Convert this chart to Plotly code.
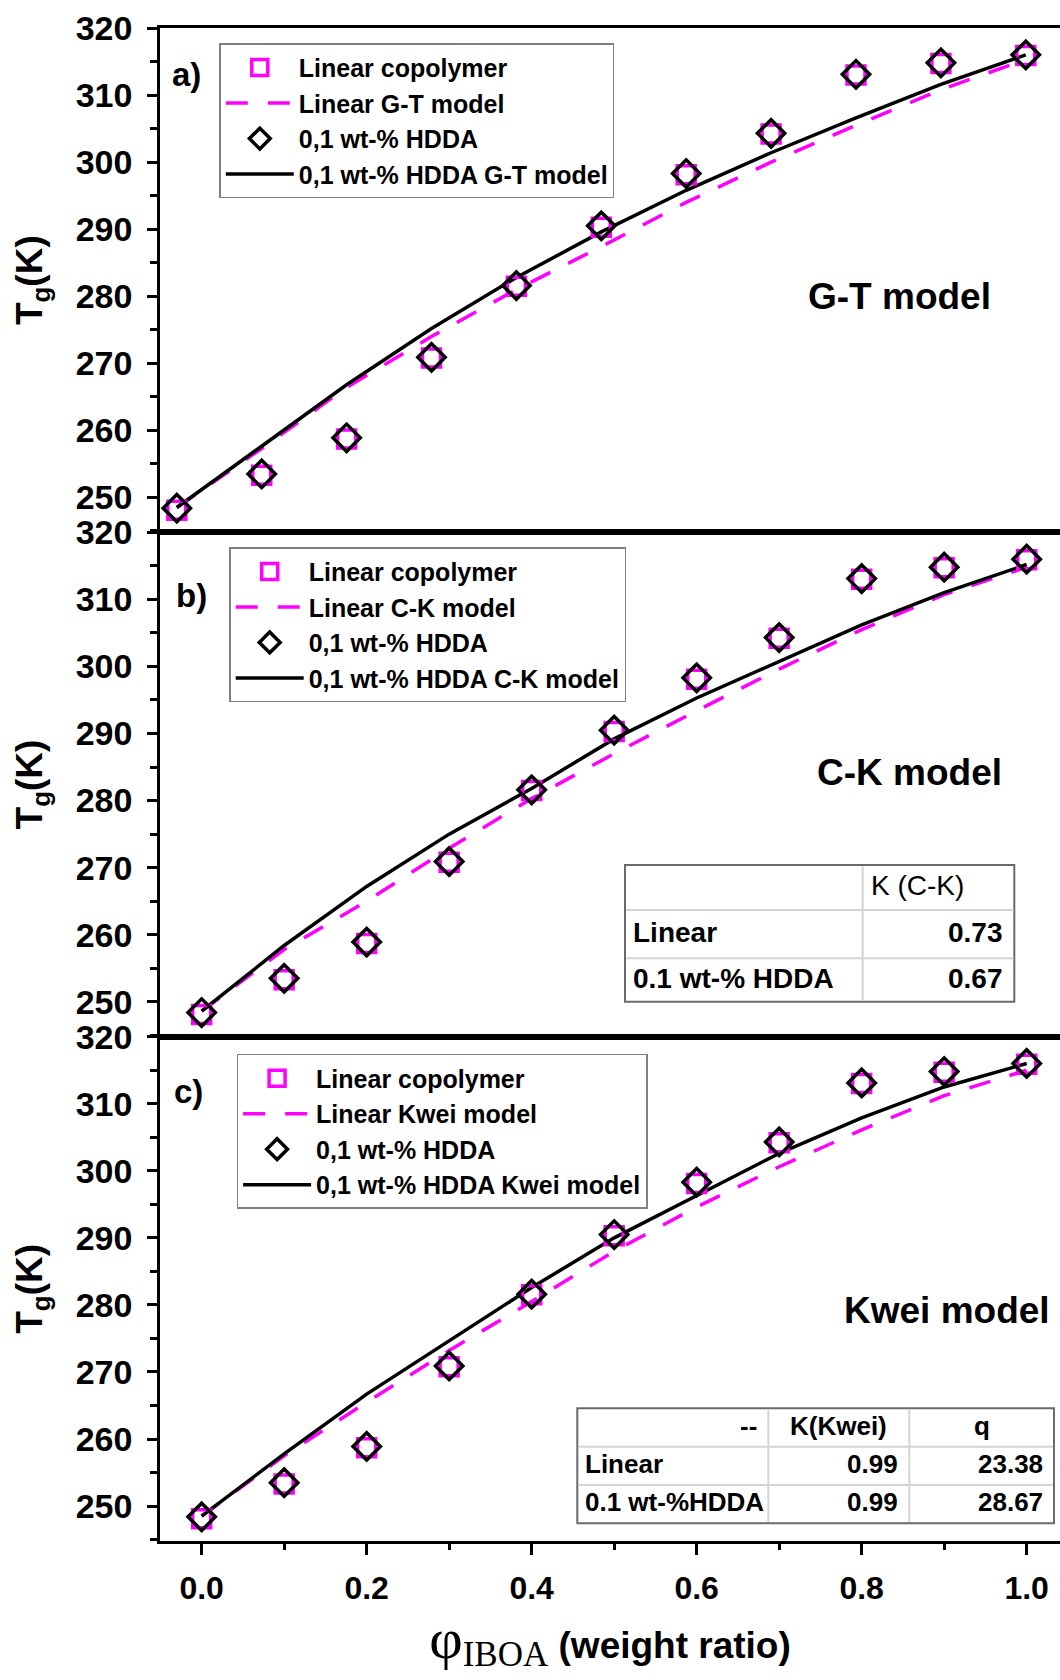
import plotly.graph_objects as go
from plotly.subplots import make_subplots

# ---------------- data ----------------
phi = [0.0, 0.1, 0.2, 0.3, 0.4, 0.5, 0.6, 0.7, 0.8, 0.9, 1.0]

tg_linear_exp = [248.1, 253.3, 258.7, 270.8, 281.5, 290.3, 298.1, 304.2, 313.0, 314.7, 315.9]
tg_hdda_exp = [248.4, 253.5, 258.9, 270.9, 281.6, 290.5, 298.3, 304.3, 313.1, 314.8, 316.0]

gt_linear = [248.5, 257.3, 266.4, 274.0, 281.0, 287.4, 294.0, 300.0, 305.5, 310.8, 315.3]
gt_hdda = [248.5, 257.6, 266.8, 275.2, 282.8, 289.6, 295.8, 301.4, 306.6, 311.6, 316.0]

ck_linear = [248.6, 257.8, 265.0, 272.9, 280.3, 287.0, 293.4, 299.6, 305.5, 310.7, 314.8]
ck_hdda = [248.6, 258.4, 267.2, 275.0, 281.8, 289.2, 295.3, 300.8, 306.2, 311.0, 315.2]

kwei_linear = [248.5, 257.5, 265.5, 273.2, 280.5, 288.0, 294.6, 300.6, 306.1, 311.2, 315.0]
kwei_hdda = [248.5, 257.8, 266.7, 274.6, 282.6, 290.0, 296.3, 302.6, 307.9, 312.5, 316.0]

panel_tags = ["a)", "b)", "c)"]
model_short = ["G-T", "C-K", "Kwei"]
model_titles = ["G-T model", "C-K model", "Kwei model"]

ck_table = [["", "K (C-K)"],
            ["Linear", "0.73"],
            ["0.1 wt-% HDDA", "0.67"]]
kwei_table = [["--", "K(Kwei)", "q"],
              ["Linear", "0.99", "23.38"],
              ["0.1 wt-%HDDA", "0.99", "28.67"]]

y_ticks = [250, 260, 270, 280, 290, 300, 310, 320]
x_ticks = [0.0, 0.2, 0.4, 0.6, 0.8, 1.0]

# ---------------- geometry ----------------
W, H = 1060, 1680
ML, MR, MT, MB = 160, 0, 28, 139
PW = W - ML - MR
PH = H - MT - MB


def px(x):
    return (x - ML) / PW


def py(y):
    return (H - MB - y) / PH


FONT = "Liberation Sans"
SERIF = "Liberation Serif"
MAG = "#FF00FF"

fig = make_subplots(rows=3, cols=1, vertical_spacing=0, shared_xaxes=False)

models = [(gt_linear, gt_hdda), (ck_linear, ck_hdda), (kwei_linear, kwei_hdda)]
legend_ids = ["legend", "legend2", "legend3"]

for i, ((mod_lin, mod_hdda), leg) in enumerate(zip(models, legend_ids)):
    r = i + 1
    fig.add_trace(go.Scatter(x=phi, y=mod_lin, mode="lines", name=f"Linear {model_short[i]} model",
                             line=dict(color=MAG, width=3.5, dash="22px,20px"),
                             legend=leg, legendrank=2), row=r, col=1)
    fig.add_trace(go.Scatter(x=phi, y=mod_hdda, mode="lines", name=f"0,1 wt-% HDDA {model_short[i]} model",
                             line=dict(color="black", width=3.5),
                             legend=leg, legendrank=4), row=r, col=1)
    fig.add_trace(go.Scatter(x=phi, y=tg_linear_exp, mode="markers", name="Linear copolymer",
                             marker=dict(symbol="square-open", size=18, color=MAG,
                                         line=dict(width=3.5, color=MAG)),
                             legend=leg, legendrank=1), row=r, col=1)
    fig.add_trace(go.Scatter(x=phi, y=tg_hdda_exp, mode="markers", name="0,1 wt-% HDDA",
                             marker=dict(symbol="diamond-open", size=21, color="black",
                                         line=dict(width=3.5, color="black")),
                             legend=leg, legendrank=3), row=r, col=1)

x_ranges = [[-0.0198, 1.0403], [-0.0505, 1.0404], [-0.0505, 1.0404]]
for i in range(3):
    r = i + 1
    last = (r == 3)
    fig.update_xaxes(row=r, col=1, range=x_ranges[i], showline=True, linecolor="black", linewidth=2.5,
                     mirror=True, showgrid=False, zeroline=False, automargin=False,
                     ticks="outside" if last else "", showticklabels=last,
                     tickvals=x_ticks if last else None, tickformat=".1f",
                     ticklen=11, tickwidth=2.5, tickcolor="black",
                     minor=dict(dtick=0.1, ticks="outside" if last else "", ticklen=6, tickwidth=2.5,
                                tickcolor="black") if last else None,
                     tickfont=dict(family=FONT, size=32, color="black", weight="bold"),
                     ticklabelstandoff=6)
    fig.update_yaxes(row=r, col=1, range=[244.8, 320], showline=True, linecolor="black", linewidth=2.5,
                     mirror=False, showgrid=False, zeroline=False, automargin=False,
                     ticks="outside", tickvals=y_ticks, ticklen=10, tickwidth=2.5, tickcolor="black",
                     minor=dict(dtick=5, ticks="outside", ticklen=7, tickwidth=2.5, tickcolor="black"),
                     tickfont=dict(family=FONT, size=34, color="black", weight="bold"),
                     ticklabelstandoff=8,
                     title=dict(text="T<sub>g</sub>(K)", standoff=22,
                                font=dict(family=FONT, size=37, color="black", weight="bold")))

fig.update_xaxes(row=3, col=1,
                 title=dict(text=f'<span style="font-family:{SERIF};font-weight:normal;font-size:58px">φ</span>'
                                 f'<sub><span style="font-family:{SERIF};font-weight:normal;font-size:35px">IBOA</span></sub>'
                                 ' (weight ratio)',
                            standoff=26, font=dict(family=FONT, size=37, color="black", weight="bold")))

# legends
leg_pos = [(219.3, 43.3), (229.2, 547.2), (236.6, 1053.9)]
leg_common = dict(xanchor="left", yanchor="top", bordercolor="#808080", borderwidth=1.5, bgcolor="white",
                  font=dict(family=FONT, size=25, color="black", weight="bold"),
                  itemwidth=68, traceorder="normal", tracegroupgap=0)
layout_leg = {}
for leg, (lx, ly) in zip(legend_ids, leg_pos):
    layout_leg[leg] = dict(x=px(lx), y=py(ly), **leg_common)
fig.update_layout(**layout_leg)

annotations = []
# panel tags
tag_pos = [(186, 75), (191, 595), (188.5, 1091)]
for tag, (tx, ty) in zip(panel_tags, tag_pos):
    annotations.append(dict(text=tag, x=px(tx), y=py(ty), xref="paper", yref="paper", showarrow=False,
                            xanchor="center", yanchor="middle",
                            font=dict(family=FONT, size=33, color="black", weight="bold")))
# model titles
title_pos = [(899, 296), (909, 772), (946.5, 1310)]
for tt, (tx, ty) in zip(model_titles, title_pos):
    annotations.append(dict(text=tt, x=px(tx), y=py(ty), xref="paper", yref="paper", showarrow=False,
                            xanchor="center", yanchor="middle",
                            font=dict(family=FONT, size=37, color="black", weight="bold")))

shapes = []


def add_table(cells, x_edges, y_edges, aligns, weights, size):
    shapes.append(dict(type="rect", xref="paper", yref="paper", x0=px(x_edges[0]), x1=px(x_edges[-1]),
                       y0=py(y_edges[0]), y1=py(y_edges[-1]), fillcolor="white",
                       line=dict(color="#6a6a6a", width=2), layer="above"))
    for xe in x_edges[1:-1]:
        shapes.append(dict(type="line", xref="paper", yref="paper", x0=px(xe), x1=px(xe),
                           y0=py(y_edges[0]) - 0.0008, y1=py(y_edges[-1]) + 0.0008,
                           line=dict(color="#d4d4d4", width=2), layer="above"))
    for ye in y_edges[1:-1]:
        shapes.append(dict(type="line", xref="paper", yref="paper", x0=px(x_edges[0]) + 0.001,
                           x1=px(x_edges[-1]) - 0.001, y0=py(ye), y1=py(ye),
                           line=dict(color="#d4d4d4", width=2), layer="above"))
    for ri, row in enumerate(cells):
        yc = (y_edges[ri] + y_edges[ri + 1]) / 2 - 2
        for ci, txt in enumerate(row):
            if not txt:
                continue
            al = aligns[ri][ci]
            if al == "left":
                xx = x_edges[ci] + 6
            elif al == "right":
                xx = x_edges[ci + 1] - 9
            else:
                xx = (x_edges[ci] + x_edges[ci + 1]) / 2
            annotations.append(dict(text=txt, x=px(xx), y=py(yc), xref="paper", yref="paper", showarrow=False,
                                    xanchor=al, yanchor="middle",
                                    font=dict(family=FONT, size=size[ri], color="black", weight=weights[ri])))


add_table(ck_table, [625, 862.7, 1014.3], [865, 910, 958.3, 1001.7],
          [["left", "left"], ["left", "right"], ["left", "right"]],
          ["normal", "bold", "bold"], [28, 28, 28])
add_table(kwei_table, [577.3, 768.3, 909.3, 1054], [1408.3, 1446.7, 1485, 1523.3],
          [["right", "center", "center"], ["left", "right", "right"], ["left", "right", "right"]],
          ["bold", "bold", "bold"], [26, 26, 26])

fig.update_layout(width=W, height=H, autosize=False,
                  margin=dict(l=ML, r=MR, t=MT, b=MB, pad=0),
                  paper_bgcolor="white", plot_bgcolor="white",
                  annotations=annotations, shapes=shapes,
                  font=dict(family=FONT, color="black"))

fig.write_html("out.html", config={"displayModeBar": False},
               post_script="document.body.style.margin='0';document.body.style.overflow='hidden';")
